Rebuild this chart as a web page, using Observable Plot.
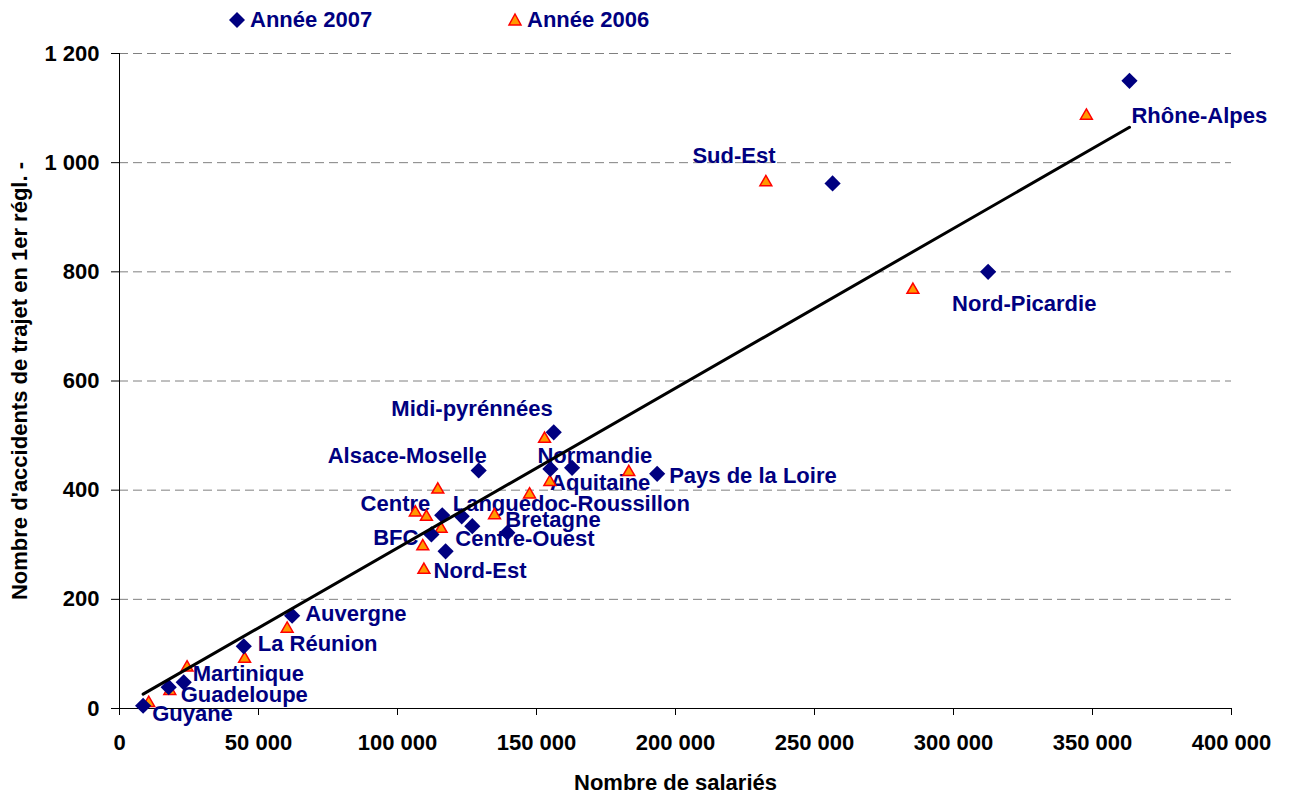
<!DOCTYPE html>
<html>
<head>
<meta charset="utf-8">
<script src="https://cdn.jsdelivr.net/npm/d3@7"></script>
<script src="https://cdn.jsdelivr.net/npm/@observablehq/plot@0.6"></script>
<style>
  body { margin: 0; background: #fff; font-family: "Liberation Sans", Arial, sans-serif; }
  #wrap { width: 1290px; height: 796px; position: relative; overflow: hidden; }
  #legend { position: relative; height: 40px; }
  .item { position: absolute; top: 0; height: 40px; display: flex; align-items: center;
          font-weight: bold; font-size: 22px; color: #000080; white-space: nowrap; }
  .item svg { margin-right: 4px; }
</style>
</head>
<body>
<div id="wrap">
  <div id="legend"></div>
  <div id="chart"></div>
</div>
<script>
// ---- data ----
const regions = ["Rhône-Alpes","Sud-Est","Nord-Picardie","Midi-pyrénnées","Normandie","Aquitaine",
  "Pays de la Loire","Alsace-Moselle","Languedoc-Roussillon","Centre","Bretagne","Centre-Ouest",
  "BFC","Nord-Est","Auvergne","La Réunion","Martinique","Guadeloupe","Guyane"];
const salaries2007 = [363300,256500,312450,156200,155000,162800,193400,129200,123100,116100,139500,126900,
  112200,117300,62100,44700,23100,17700,8500];
const accidents2007 = [1150,962,800,506,439,441,430,436,352,354,322,334,319,288,170,114,48,39,5];
const salaries2006 = [347800,232500,285400,152900,154800,147500,183200,114500,134900,106400,110400,115700,
  109100,109500,60300,45000,24300,18100,10500];
const accidents2006 = [1086,964,767,494,415,392,433,401,354,359,351,329,297,254,146,91,75,32,10];
const seriesNames = ["Année 2007","Année 2006"];
const xTicks = [0,50000,100000,150000,200000,250000,300000,350000,400000];
const yTicks = [0,200,400,600,800,1000,1200];
// trend line (y = intercept + slope * x)
const trendSlope = 0.002927;
const trendIntercept = 1.4;
const xTitle = "Nombre de salariés";
const yTitle = "Nombre d'accidents de trajet en 1er régl. -";

// label placement (offsets in px relative to the 2007 marker)
const labelLayout = {
  "Rhône-Alpes": [2, 35, "start"],
  "Sud-Est": [-57, -27, "end"],
  "Nord-Picardie": [-36, 32, "start"],
  "Midi-pyrénnées": [-1, -23, "end"],
  "Normandie": [-13, -13, "start"],
  "Aquitaine": [-22, 15, "start"],
  "Pays de la Loire": [12, 2, "start"],
  "Alsace-Moselle": [8, -15, "end"],
  "Languedoc-Roussillon": [-9, -12, "start"],
  "Centre": [-12, -11, "end"],
  "Bretagne": [-2, -13, "start"],
  "Centre-Ouest": [-17, 13, "start"],
  "BFC": [-13, 4, "end"],
  "Nord-Est": [-12, 20, "start"],
  "Auvergne": [13, -2, "start"],
  "La Réunion": [14, -2, "start"],
  "Martinique": [9, -8, "start"],
  "Guadeloupe": [12, 8, "start"],
  "Guyane": [9, 8, "start"]
};

const navy = "#000080", orange = "#FF9900", red = "#FF0000";

const d2007 = regions.map((r, i) => ({region: r, x: salaries2007[i], y: accidents2007[i]}));
const d2006 = regions.map((r, i) => ({region: r, x: salaries2006[i], y: accidents2006[i]}));
const ext = d3.extent(salaries2007);
const trend = ext.map(x => ({x, y: trendIntercept + trendSlope * x}));

const fmt = d3.formatLocale({thousands: " ", grouping: [3], decimal: ","}).format(",d");

// legend
const legend = document.getElementById("legend");
legend.innerHTML =
  `<div class="item" style="left:228px"><svg width="18" height="18" viewBox="-9 -9 18 18"><path d="M0,-8L8,0L0,8L-8,0Z" fill="${navy}"/></svg>${seriesNames[0]}</div>` +
  `<div class="item" style="left:507px"><svg width="16" height="16" viewBox="-8 -8 16 16"><path d="M0,-6L6,5L-6,5Z" fill="${orange}" stroke="${red}" stroke-width="1.5"/></svg>${seriesNames[1]}</div>`;

const labelMarks = d2007.map(d => {
  const [dx, dy, anchor] = labelLayout[d.region];
  return Plot.text([d], {x: "x", y: "y", text: "region", dx, dy, textAnchor: anchor,
    fill: navy, fontWeight: "bold", fontSize: 22});
});

const chart = Plot.plot({
  width: 1290,
  height: 756,
  marginTop: 13,
  marginBottom: 88,
  marginLeft: 119,
  marginRight: 59,
  style: {fontFamily: "'Liberation Sans', Arial, sans-serif", fontSize: "22px", color: "black", background: "white"},
  x: {domain: [0, 400000], axis: null},
  y: {domain: [0, 1200], axis: null},
  marks: [
    Plot.ruleY(yTicks.filter(t => t > 0), {stroke: "#808080", strokeWidth: 1, strokeDasharray: "9,5"}),
    Plot.ruleY([0], {stroke: "black", strokeWidth: 1}),
    Plot.ruleX([0], {stroke: "black", strokeWidth: 1}),
    Plot.axisX({ticks: xTicks, tickFormat: fmt, tickSize: 7, tickPadding: 19, label: null,
      fontWeight: "bold", fontSize: 22, stroke: "black"}),
    Plot.axisY({ticks: yTicks, tickFormat: fmt, tickSize: 8, tickPadding: 12, label: null,
      fontWeight: "bold", fontSize: 22, stroke: "black"}),
    ...labelMarks,
    Plot.dot(d2006, {x: "x", y: "y", symbol: "triangle", r: 4.4, fill: orange, stroke: red, strokeWidth: 1.5}),
    Plot.dot(d2007, {x: "x", y: "y", symbol: "diamond2", r: 7.3, fill: navy, stroke: null}),
    Plot.line(trend, {x: "x", y: "y", stroke: "black", strokeWidth: 3}),
    Plot.text([xTitle], {frameAnchor: "bottom", lineAnchor: "middle", textAnchor: "middle", dy: 74,
      fontWeight: "bold", fontSize: 22, fill: "black"}),
    Plot.text([yTitle], {frameAnchor: "left", textAnchor: "middle", lineAnchor: "middle", dx: -100, rotate: -90,
      fontWeight: "bold", fontSize: 22, fill: "black"})
  ]
});
document.getElementById("chart").appendChild(chart);
</script>
</body>
</html>
